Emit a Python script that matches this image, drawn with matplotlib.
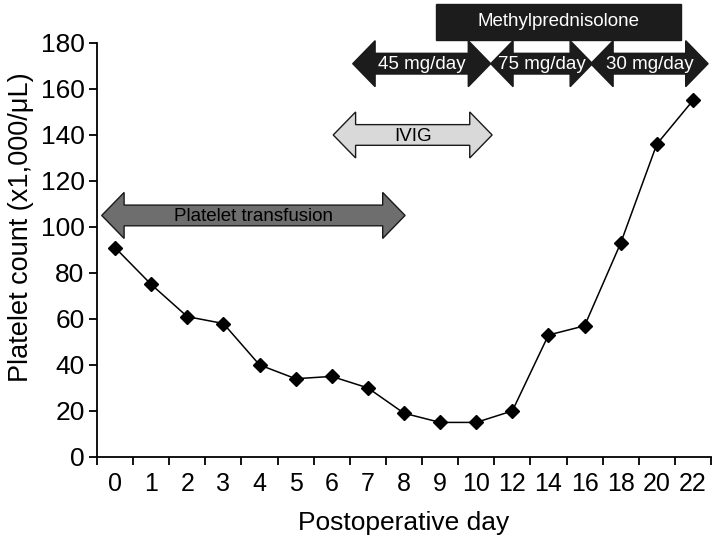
import matplotlib.pyplot as plt
import numpy as np
from matplotlib.patches import Polygon, Rectangle

plt.rcParams['font.family'] = ['Liberation Sans', 'DejaVu Sans']

# datos
days = ["0", "1", "2", "3", "4", "5", "6", "7", "8", "9", "10",
        "12", "14", "16", "18", "20", "22"]
platelets = [91, 75, 61, 58, 40, 34, 35, 30, 19, 15, 15, 20, 53, 57, 93, 136, 155]

# flechas de tratamiento: (texto, inicio, fin, y, relleno, color texto) en indice de categoria
arrow_labels = ["Platelet transfusion", "IVIG", "45 mg/day", "75 mg/day", "30 mg/day"]
arrow_start = [-0.37, 6.04, 6.58, 10.40, 13.17]
arrow_end = [8.03, 10.44, 10.40, 13.22, 16.42]
arrow_y = [105, 140, 171, 171, 171]
arrow_fill = ["#6e6e6e", "#d9d9d9", "#1c1c1c", "#1c1c1c", "#1c1c1c"]
arrow_text = ["black", "black", "white", "white", "white"]

box_label = "Methylprednisolone"
box_start, box_end = 8.89, 15.66
box_low, box_high = 181.3, 197

fig = plt.figure(figsize=(7.16, 5.42), dpi=100)
ax = fig.add_axes([0.1355, 0.157, 0.8575, 0.7637])

x = np.arange(len(days))
ax.plot(x, platelets, color="black", lw=1.1, marker="D", ms=7.5, zorder=3)

ax.set_xlim(-0.5, len(days) - 0.5)
ax.set_ylim(0, 180)
ax.set_yticks(np.arange(0, 181, 20))
ax.set_xticks(x)
ax.set_xticklabels(days, fontsize=18)
ax.set_xticks(np.arange(-0.5, len(days), 1), minor=True)
ax.tick_params(axis="x", which="major", length=0, pad=11)
ax.tick_params(axis="x", which="minor", length=6, width=1.3)
ax.tick_params(axis="y", length=6, width=1.3, labelsize=19, pad=3)
for s in ["top", "right"]:
    ax.spines[s].set_visible(False)
for s in ["left", "bottom"]:
    ax.spines[s].set_linewidth(1.3)

ax.set_xlabel("Postoperative day", fontsize=19, labelpad=11)
ax.set_ylabel("Platelet count (x1,000/\u03bcL)", fontsize=19.5)
ax.yaxis.set_label_coords(-0.102, 0.555)

hl = 0.62   # largo de la punta
hs = 4.5    # medio alto del cuerpo
hh = 10     # medio alto de la punta
for lab, x0, x1, yc, fc, tc in zip(arrow_labels, arrow_start, arrow_end, arrow_y, arrow_fill, arrow_text):
    pts = [(x0, yc), (x0 + hl, yc + hh), (x0 + hl, yc + hs), (x1 - hl, yc + hs),
           (x1 - hl, yc + hh), (x1, yc), (x1 - hl, yc - hh), (x1 - hl, yc - hs),
           (x0 + hl, yc - hs), (x0 + hl, yc - hh)]
    ax.add_patch(Polygon(pts, closed=True, facecolor=fc, edgecolor="#1a1a1a",
                         lw=1.0, clip_on=False, zorder=4))
    ax.text((x0 + x1) / 2, yc - 0.5, lab, ha="center", va="center", fontsize=13.5,
            color=tc, zorder=5)

ax.add_patch(Rectangle((box_start, box_low), box_end - box_start, box_high - box_low,
                       facecolor="#1c1c1c", edgecolor="#1a1a1a", lw=1.0,
                       clip_on=False, zorder=4))
ax.text((box_start + box_end) / 2, (box_low + box_high) / 2, box_label,
        ha="center", va="center", fontsize=13.5, color="white", zorder=5)

plt.savefig("out.png", dpi=100)
